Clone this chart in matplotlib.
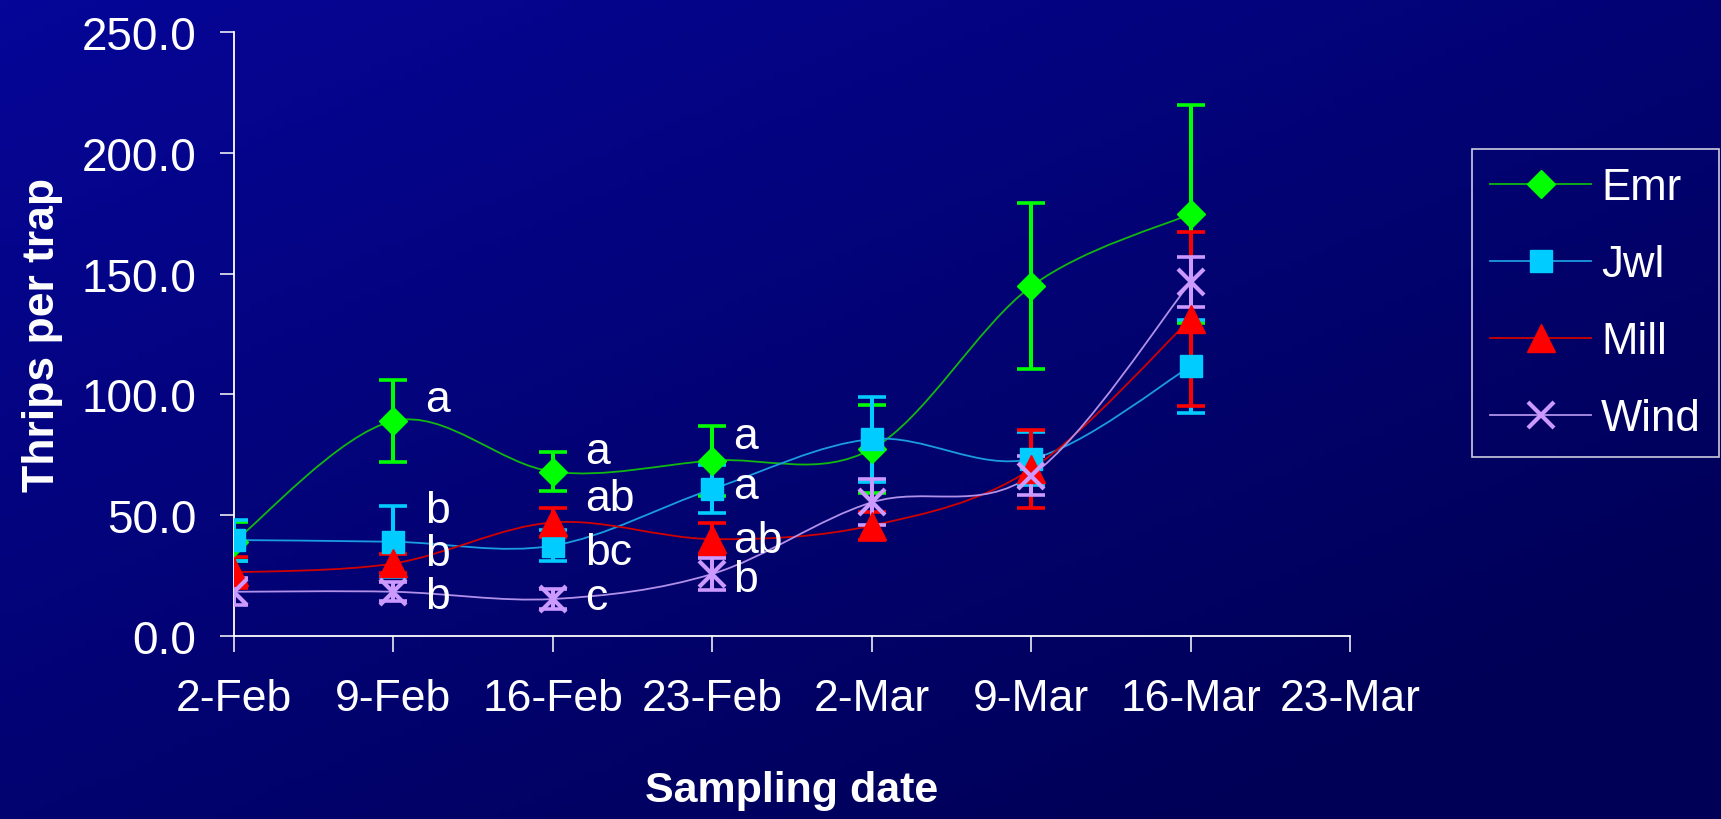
import numpy as np
import matplotlib
matplotlib.use('Agg')
import matplotlib.pyplot as plt
from matplotlib.path import Path
from matplotlib.patches import PathPatch
from matplotlib.lines import Line2D

plt.rcParams['font.family'] = ['Liberation Sans', 'DejaVu Sans']

# x axis categories (weekly samples), last one has no data
dates = ['2-Feb', '9-Feb', '16-Feb', '23-Feb', '2-Mar', '9-Mar', '16-Mar', '23-Mar']

# mean thrips per trap and standard error, one value per sampling date
emr = [39.0, 89.0, 68.0, 72.6, 77.4, 144.7, 174.7]
emr_err = [8.0, 17.0, 8.0, 14.5, 18.4, 34.4, 45.0]
jwl = [39.7, 39.0, 37.4, 60.8, 81.5, 73.3, 111.6]
jwl_err = [8.5, 14.7, 6.5, 10.0, 17.6, 11.0, 19.3]
mill = [26.3, 30.0, 47.0, 40.1, 45.7, 69.1, 131.2]
mill_err = [6.4, 4.0, 6.0, 6.5, 5.8, 16.0, 36.0]
wind = [18.3, 18.3, 15.3, 25.7, 55.3, 66.4, 146.4]
wind_err = [5.5, 4.0, 4.0, 6.5, 9.5, 8.0, 10.4]

# mean separation letters (x in weeks, y in thrips per trap)
letter_x = [1.2, 1.2, 1.2, 1.2, 2.2, 2.2, 2.2, 2.2, 3.13, 3.13, 3.13, 3.13]
letter_y = [97.7, 52.0, 34.3, 16.5, 76.5, 56.8, 34.7, 16.0, 82.5, 62.0, 39.5, 23.2]
letters = ['a', 'b', 'b', 'b', 'a', 'ab', 'bc', 'c', 'a', 'a', 'ab', 'b']

# style per series: name, values, errors, marker, marker size, marker colour, line colour
series = [
    ('Emr', emr, emr_err, 'D', 14.5, '#00FF00', '#10B810'),
    ('Jwl', jwl, jwl_err, 's', 15.5, '#00CCFF', '#1A9CE0'),
    ('Mill', mill, mill_err, '^', 19.5, '#FF0000', '#D00000'),
    ('Wind', wind, wind_err, 'x', 19.0, '#CC99FF', '#B090E8'),
]


def smooth_path(x, y):
    # excel-like smoothed line: bezier segments through the data points
    pts = np.column_stack([x, y])
    ext = np.vstack([pts[0], pts, pts[-1]])
    verts = [pts[0]]
    codes = [Path.MOVETO]
    for i in range(len(pts) - 1):
        p0, p1, p2, p3 = ext[i], ext[i + 1], ext[i + 2], ext[i + 3]
        verts += [p1 + (p2 - p0) / 6, p2 - (p3 - p1) / 6, p2]
        codes += [Path.CURVE4] * 3
    return Path(verts, codes)


fig = plt.figure(figsize=(17.21, 8.2), dpi=100)

# background gradient, like the slide template
bg = fig.add_axes([0, 0, 1, 1], zorder=-10)
gx, gy = np.meshgrid(np.linspace(0, 1, 200), np.linspace(0, 1, 100))
g = np.clip(0.55 * gx + 0.6 * gy, 0, 1)[..., None]
top = np.array([6, 6, 152]) / 255
bot = np.array([0, 0, 86]) / 255
bg.imshow(top * (1 - g) + bot * g, aspect='auto', extent=[0, 1, 0, 1], origin='upper')
bg.axis('off')

ax = fig.add_axes([0.136, 0.2232, 0.6485, 0.7366])
ax.set_facecolor('none')

handles = []
for name, vals, errs, mk, ms, mcol, lcol in series:
    x = np.arange(len(vals))
    ax.add_patch(PathPatch(smooth_path(x, vals), fill=False, edgecolor=lcol, lw=1.3, zorder=2))
    ax.errorbar(x, vals, yerr=errs, fmt='none', ecolor=mcol, elinewidth=2.9,
                capsize=10, capthick=2.6, zorder=3)
    if mk == 'x':
        ax.plot(x, vals, linestyle='none', marker=mk, ms=ms, mew=3, color=mcol, zorder=4)
        h = Line2D([], [], color=lcol, lw=1.3, marker=mk, ms=ms, mew=3, mec=mcol)
    else:
        ax.plot(x, vals, linestyle='none', marker=mk, ms=ms, mfc=mcol, mec=mcol, mew=1,
                zorder=4)
        h = Line2D([], [], color=lcol, lw=1.3, marker=mk, ms=ms, mfc=mcol, mec=mcol)
    handles.append(h)

for lx, ly, t in zip(letter_x, letter_y, letters):
    ax.text(lx, ly, t, color='white', fontsize=32, ha='left', va='center', zorder=5)

ax.set_xlim(0, len(dates) - 1)
ax.set_ylim(0, 250)
ax.set_xticks(np.arange(len(dates)))
ax.set_xticklabels(dates)
ax.set_yticks(np.arange(0, 251, 50))
ax.set_yticklabels(['%.1f' % v for v in np.arange(0, 251, 50)])

for s in ['top', 'right']:
    ax.spines[s].set_visible(False)
for s in ['left', 'bottom']:
    ax.spines[s].set_color('white')
    ax.spines[s].set_linewidth(1.3)

ax.tick_params(axis='y', colors='white', labelsize=33, length=10, width=1.1, pad=17)
ax.tick_params(axis='x', colors='white', labelsize=32, length=11.5, width=1.1, pad=19)

ax.set_ylabel('Thrips per trap', color='white', fontsize=32, fontweight='bold', va='center')
ax.yaxis.set_label_coords(-0.172, 0.5)
ax.set_xlabel('Sampling date', color='white', fontsize=31, fontweight='bold', va='center')
ax.xaxis.set_label_coords(0.5, -0.255)

leg = ax.legend(handles, [s[0] for s in series], loc='upper left',
                bbox_to_anchor=(0.8553, 0.817), bbox_transform=fig.transFigure,
                borderaxespad=0, fontsize=31.5, frameon=True, fancybox=False,
                handlelength=2.3, handletextpad=0.23, labelspacing=0.82, borderpad=0.42)
leg.get_frame().set_facecolor('none')
leg.get_frame().set_edgecolor('white')
leg.get_frame().set_linewidth(1.2)
for t in leg.get_texts():
    t.set_color('white')

fig.savefig('out.png', dpi=100)
